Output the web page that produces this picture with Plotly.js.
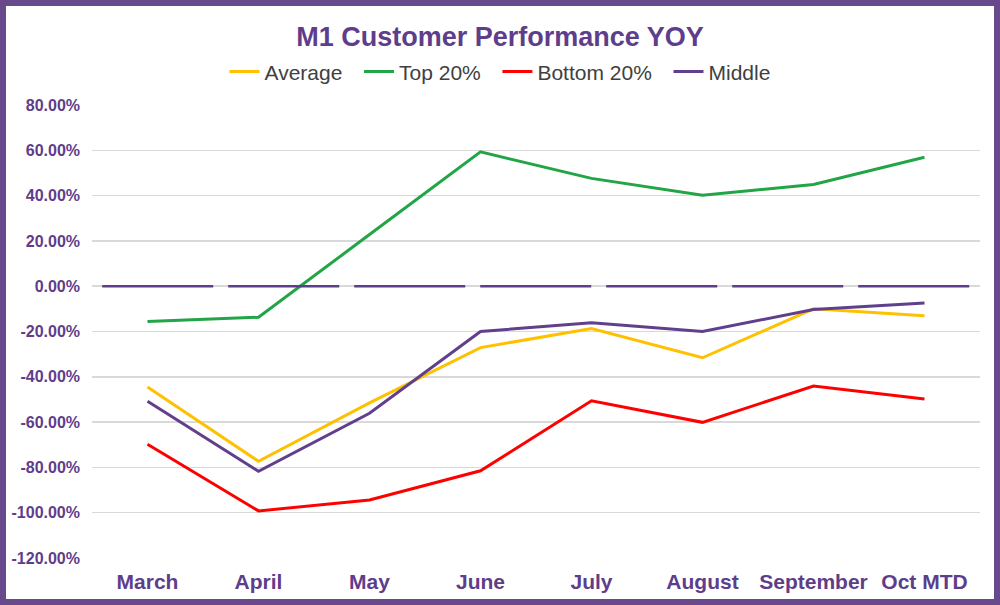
<!DOCTYPE html>
<html>
<head>
<meta charset="utf-8">
<script src="https://cdn.plot.ly/plotly-3.0.1.min.js"></script>
<style>
  html, body { margin: 0; padding: 0; background: #ffffff; }
  #frame { width: 988px; height: 593px; border: 6px solid #67498c; background: #fff; }
  #chart { width: 988px; height: 593px; }
</style>
</head>
<body>
<div id="frame"><div id="chart"></div></div>
<script>
const categories = ["March", "April", "May", "June", "July", "August", "September", "Oct MTD"];
const seriesNames = ["Average", "Top 20%", "Bottom 20%", "Middle"];
const average   = [-0.445, -0.773, -0.515, -0.271, -0.187, -0.316, -0.100, -0.131];
const top20     = [-0.156, -0.137,  0.228,  0.593,  0.476,  0.402,  0.449,  0.569];
const bottom20  = [-0.698, -0.992, -0.944, -0.815, -0.506, -0.601, -0.441, -0.498];
const middle    = [-0.508, -0.817, -0.561, -0.200, -0.161, -0.200, -0.103, -0.074];
const yTickVals = [0.8, 0.6, 0.4, 0.2, 0, -0.2, -0.4, -0.6, -0.8, -1.0, -1.2];
const yTickText = ["80.00%", "60.00%", "40.00%", "20.00%", "0.00%", "-20.00%", "-40.00%", "-60.00%", "-80.00%", "-100.00%", "-120.00%"];

const purple = "#5e3d8a";
const sans = "Liberation Sans, Arial, Helvetica, sans-serif";
const pad = "\u00a0\u00a0";

const mk = (name, y, color) => ({
  type: "scatter", mode: "lines", name: name, x: categories, y: y,
  line: { color: color, width: 3 }, hoverinfo: "skip"
});

const data = [
  mk(seriesNames[0] + pad, average, "#ffc000"),
  mk(seriesNames[1] + pad, top20, "#22a546"),
  mk(seriesNames[2] + pad, bottom20, "#ff0000"),
  mk(seriesNames[3], middle, "#603f8c")
];

const layout = {
  width: 988, height: 593,
  margin: { l: 86, r: 14, t: 99, b: 41, pad: 0 },
  paper_bgcolor: "#ffffff", plot_bgcolor: "#ffffff",
  title: {
    text: "M1 Customer Performance YOY",
    font: { family: sans, size: 27, color: purple, weight: "bold" },
    xref: "container", x: 0.5, xanchor: "center",
    yref: "container", y: 0.948, yanchor: "middle"
  },
  showlegend: true,
  legend: {
    orientation: "h",
    xref: "container", x: 0.5, xanchor: "center",
    yref: "container", y: 0.889, yanchor: "middle",
    font: { family: sans, size: 21, color: "#404040" },
    itemwidth: 30, tracegroupgap: 0
  },
  xaxis: {
    type: "category", range: [-0.5, 7.5], tickangle: 0,
    showgrid: false, zeroline: false, showline: false, ticks: "",
    tickfont: { family: sans, size: 21, color: purple, weight: "bold" },
    ticklabelstandoff: 9, fixedrange: true
  },
  yaxis: {
    range: [-1.2, 0.8], tickvals: yTickVals, ticktext: yTickText,
    showgrid: true, gridcolor: "#d9d9d9", gridwidth: 1.5,
    zeroline: false, showline: false, ticks: "",
    tickfont: { family: sans, size: 16, color: purple, weight: "bold" },
    ticklabelstandoff: 11, fixedrange: true
  },
  shapes: [{
    type: "line", layer: "above",
    xref: "paper", x0: 0.0115, x1: 0.988,
    yref: "y", y0: 0, y1: 0,
    line: { color: purple, width: 2.5, dash: "111px,15px" }
  }]
};

Plotly.newPlot("chart", data, layout, { displayModeBar: false, staticPlot: true });
</script>
</body>
</html>
